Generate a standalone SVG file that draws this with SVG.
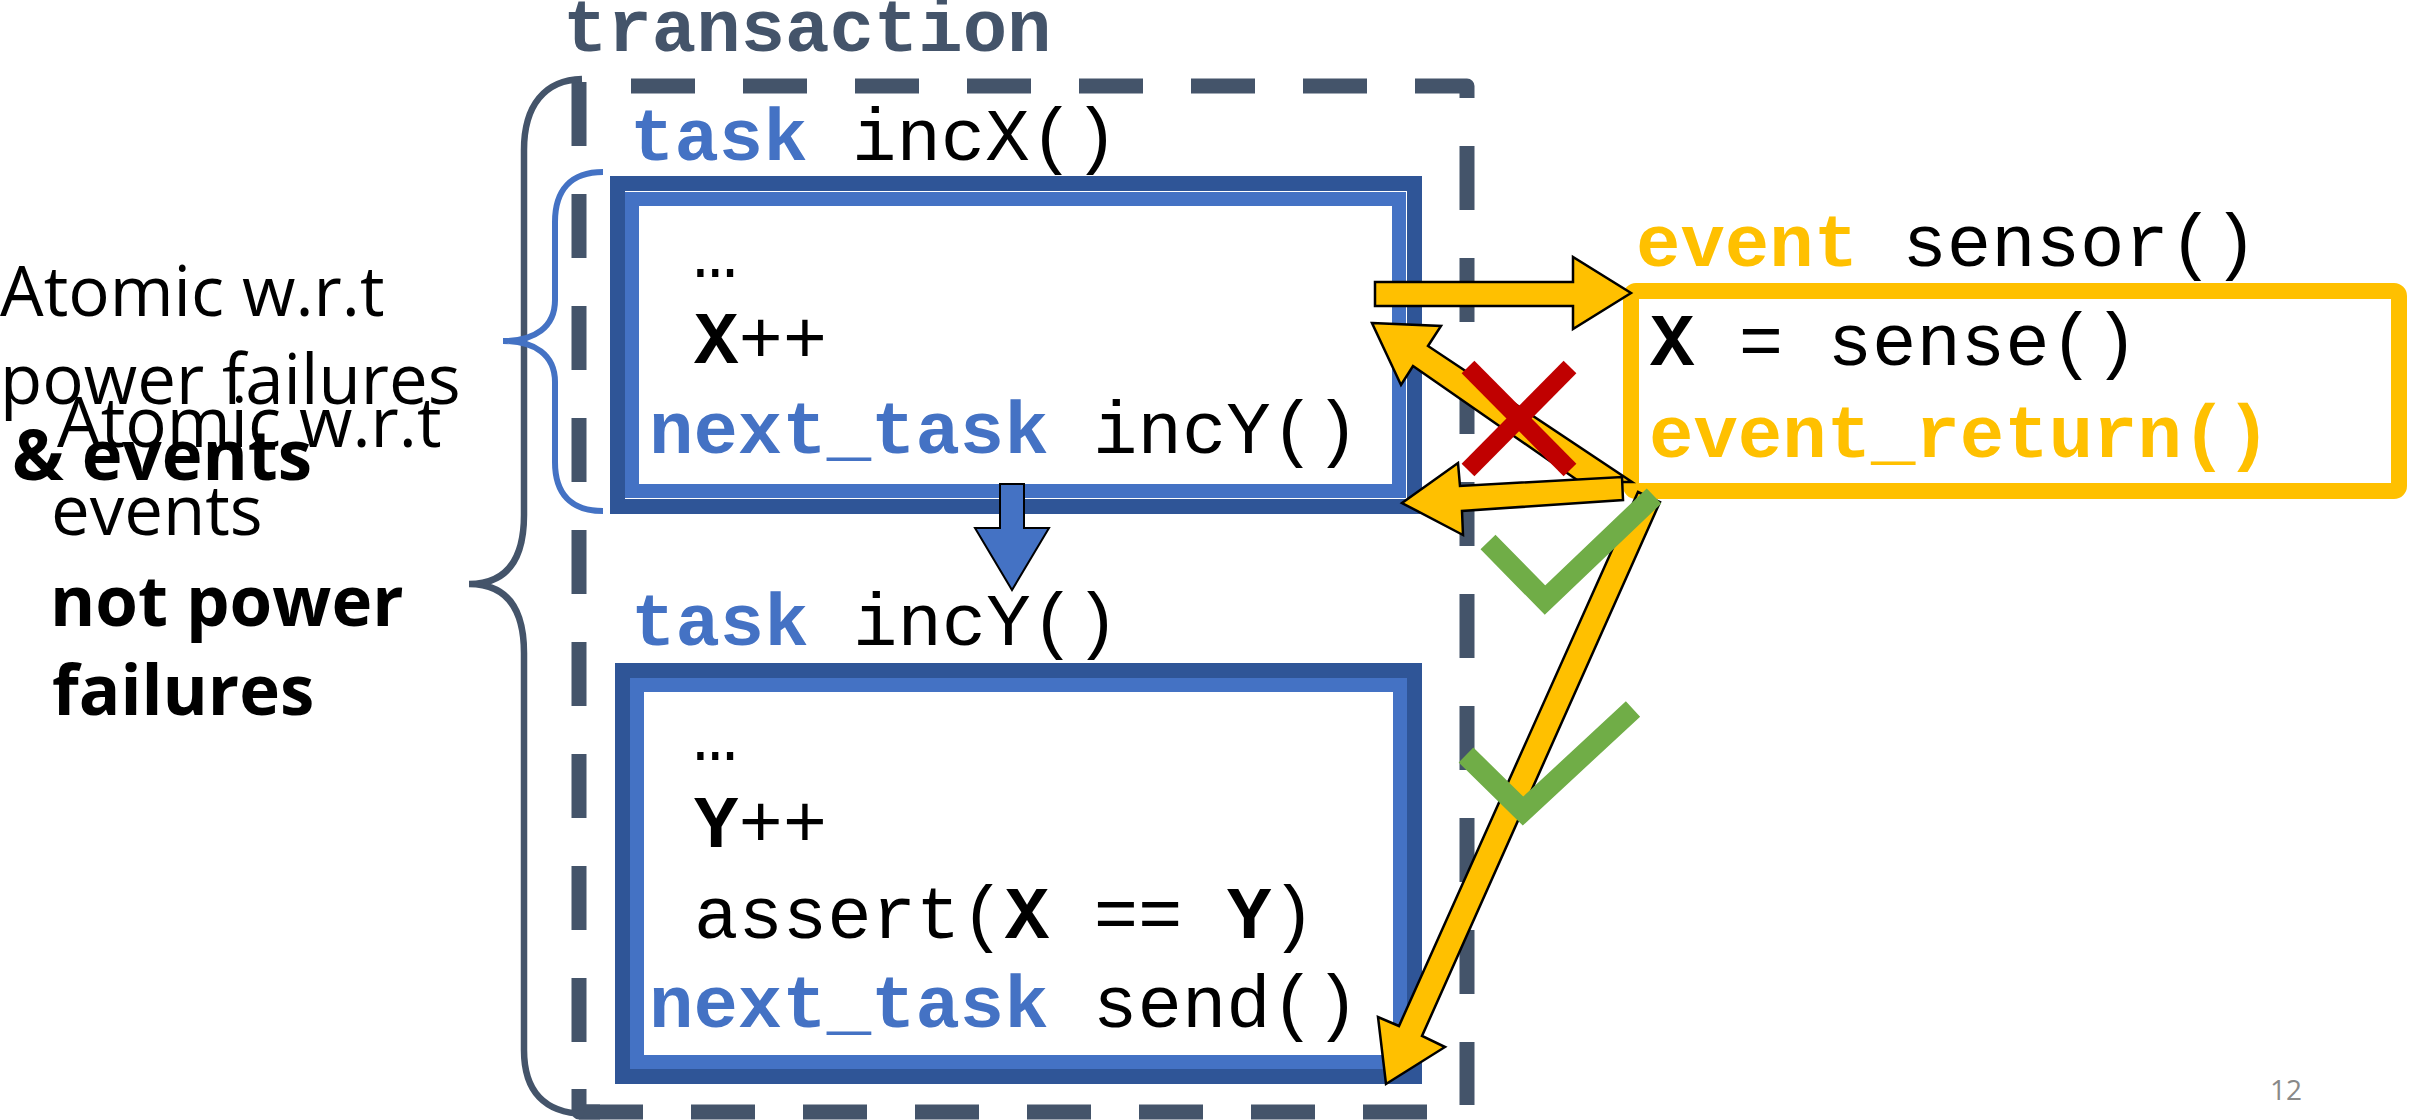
<svg xmlns="http://www.w3.org/2000/svg" width="2417" height="1120" viewBox="0 0 2417 1120">
  <style>
    .code { font-family: "Liberation Mono", "Courier New", monospace; font-size: 74px; fill: #000; }
    .kw { font-weight: bold; fill: #4472C4; }
    .ev { font-weight: bold; fill: #FFC000; }
    .b { font-weight: bold; }
    .note { font-family: "Open Sans", "Noto Sans", sans-serif; font-size: 69px; fill: #000; }
    .dash { fill: none; stroke: #44546A; stroke-width: 15; stroke-dasharray: 64 48; stroke-linejoin: round; }
    .boxOuter { fill: none; stroke: #2F5597; stroke-width: 15; }
    .boxInner { fill: #fff; stroke: #4472C4; stroke-width: 14; }
    .arrow { fill: #FFC000; stroke: #000; stroke-width: 2.5; stroke-linejoin: miter; }
    .ok { fill: none; stroke: #70AD47; stroke-width: 21; stroke-linejoin: miter; }
    .no { stroke: #C00000; stroke-width: 18; }
  </style>

  <!-- transaction: dashed frame around both tasks -->
  <g id="transaction">
    <text class="code b" x="563" y="51" style="fill:#44546A">transaction</text>
    <path class="dash" d="M631,86 H1467 V1105 M1427,1112 H579 M579,1042 V80"/>
    <path class="dash" d="M579,1089 V1112 H600"/>
  </g>

  <!-- task incX() -->
  <g id="task-incX">
    <text class="code" x="630" y="160"><tspan class="kw">task</tspan> incX()</text>
    <rect class="boxOuter" x="617.5" y="183.5" width="797" height="323"/>
    <rect class="boxInner" x="632" y="199" width="767" height="292"/>
    <text class="code" x="693" y="277">…</text>
    <text class="code" x="694" y="363"><tspan class="b">X</tspan>++</text>
    <text class="code" x="649" y="453"><tspan class="kw">next_task</tspan> incY()</text>
  </g>

  <!-- task incY() -->
  <g id="task-incY">
    <text class="code" x="631" y="645"><tspan class="kw">task</tspan> incY()</text>
    <rect class="boxOuter" x="622.5" y="670.5" width="792" height="406"/>
    <rect class="boxInner" x="637" y="685" width="763" height="377"/>
    <text class="code" x="693" y="760">…</text>
    <text class="code" x="694" y="847"><tspan class="b">Y</tspan>++</text>
    <text class="code" x="694" y="938">assert(<tspan class="b">X</tspan> == <tspan class="b">Y</tspan>)</text>
    <text class="code" x="649" y="1027"><tspan class="kw">next_task</tspan> send()</text>
  </g>

  <!-- event sensor() -->
  <g id="event-sensor">
    <text class="code" x="1636" y="266"><tspan class="ev">event</tspan> sensor()</text>
    <rect x="1631" y="291" width="768" height="200" rx="5" fill="#fff" stroke="#FFC000" stroke-width="16"/>
    <text class="code" x="1650" y="365"><tspan class="b">X</tspan> = sense()</text>
    <text class="code ev" x="1649" y="457">event_return()</text>
  </g>

  <!-- braces and their notes -->
  <g id="brace-transaction">
    <path d="M582,79 C545,80 524,105 524,150 L524,515 C524,562 505,584 469,584 C505,584 524,606 524,653 L524,1050 C524,1092 545,1113 584,1114" fill="none" stroke="#44546A" stroke-width="6.5"/>
  </g>
  <g id="brace-task">
    <path d="M603,172 C571,172 555,190 555,222 L555,300 C555,327 535,341 503,341 C535,341 555,355 555,382 L555,462 C555,494 571,511 603,511" fill="none" stroke="#4472C4" stroke-width="6"/>
  </g>
  <g id="note-task">
    <text class="note" x="0" y="316">Atomic w.r.t</text>
    <text class="note" x="0" y="404">power failures</text>
    <text class="note b" x="12" y="480" font-size="72">&amp; events</text>
  </g>
  <g id="note-transaction">
    <text class="note" x="57" y="447">Atomic w.r.t</text>
    <text class="note" x="51" y="535">events</text>
    <text class="note b" x="50" y="626" font-size="71">not power</text>
    <text class="note b" x="52" y="715">failures</text>
  </g>

  <!-- connectors -->
  <g id="connectors">
    <polygon points="1000,484 1024,484 1024,528 1049,528 1012,590 975,528 1000,528" fill="#4472C4" stroke="#000" stroke-width="2"/>
    <polygon class="arrow" points="1375,282 1573,282 1573,257 1631,293 1573,329 1573,306 1375,306"/>
    <polygon class="arrow" points="1372,323 1441,326 1428,346 1632,482 1580,482 1413,366 1401,385"/>
    <polygon class="arrow" points="1402,503 1458,463 1460,486 1622,477 1623,500 1462,511 1463,535"/>
    <polygon class="arrow" points="1638,492 1660,502 1422,1036 1445,1047 1386,1084 1378,1017 1399,1026"/>
    <line class="no" x1="1468" y1="367" x2="1570" y2="470"/>
    <line class="no" x1="1570" y1="367" x2="1468" y2="470"/>
    <polyline class="ok" points="1488,542 1545,600 1654,496"/>
    <polyline class="ok" points="1466,755 1523,811 1633,709"/>
  </g>

  <text x="2270" y="1100" font-family="Open Sans, sans-serif" font-size="28" fill="#898989">12</text>
</svg>
